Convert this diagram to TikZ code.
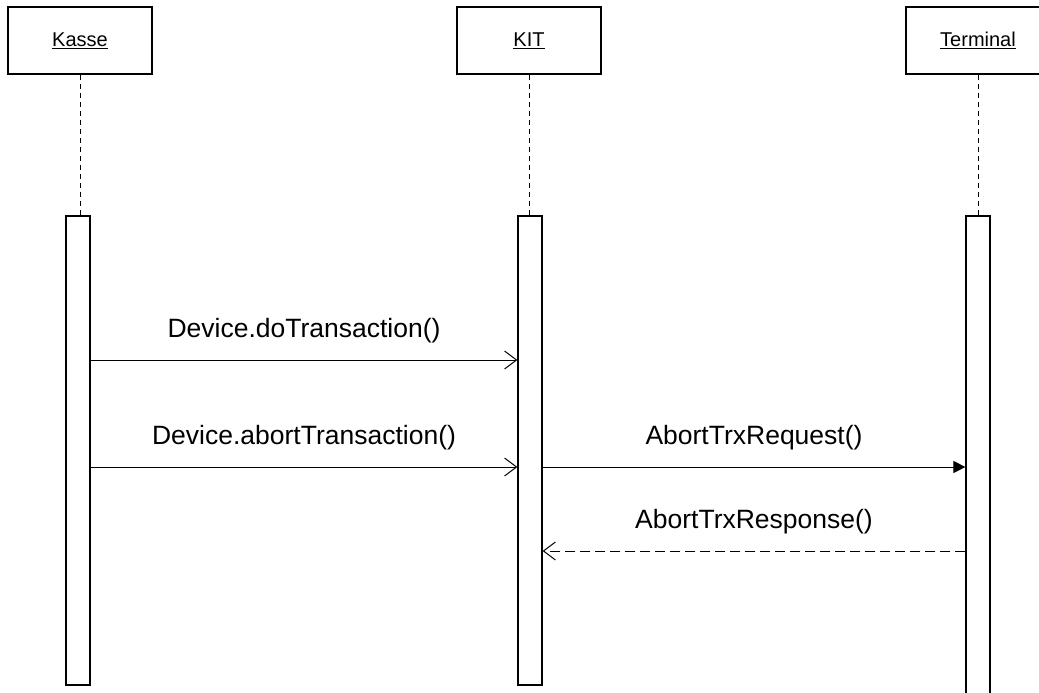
\documentclass[tikz,border=0pt]{standalone}
\usepackage{fontspec}
\setmainfont{Liberation Sans}
\usetikzlibrary{arrows.meta}
\begin{document}
\begin{tikzpicture}[x=1pt,y=-1pt,
  head/.style={draw=black,line width=1.2pt,fill=white,minimum width=144pt,minimum height=67pt,inner sep=0pt,font=\fontsize{20}{24}\selectfont},
  act/.style={draw=black,line width=1.2pt,fill=white,minimum width=24pt,inner sep=0pt},
  life/.style={draw=black,line width=1pt,dash pattern=on 5pt off 4pt},
  msg/.style={draw=black,line width=1pt,-{Straight Barb[length=12pt,width=18pt,line width=1pt]}},
  amsg/.style={draw=black,line width=1pt,-{Triangle[length=12pt,width=12pt]}},
  rmsg/.style={draw=black,line width=1pt,dash pattern=on 10pt off 5pt,-{Straight Barb[length=12pt,width=18pt,line width=1pt]}},
  lbl/.style={font=\fontsize{26.5}{30}\selectfont,inner sep=0pt}
]
\clip (0,0) rectangle (1039,693);
\fill[white] (0,0) rectangle (1039,693);
% heads
\node[head] (kasse) at (80,40.5) {\underline{Kasse}};
\node[head] (kit) at (529,40.5) {\underline{KIT}};
\node[head] (term) at (978,40.5) {\underline{Terminal}};
% activations
\node[act,minimum height=469pt] (kact) at (78,450.5) {};
\node[act,minimum height=469pt] (iact) at (530,450.5) {};
\node[act,minimum height=490pt] (tact) at (978,461) {};
% lifelines
\draw[life] (kasse.south) -- (kasse.south |- kact.north);
\draw[life] (kit.south) -- (kit.south |- iact.north);
\draw[life] (term.south) -- (term.south |- tact.north);
% message rows
\coordinate (m1) at (0,360);
\coordinate (m2) at (0,467);
\coordinate (m3) at (0,551);
\draw[msg] (kact.east |- m1) -- node[lbl,midway,yshift=29pt] (l1) {Device.doTransaction()} (iact.west |- m1);
\draw[msg] (kact.east |- m2) -- node[lbl,midway,yshift=29pt] (l2) {Device.abortTransaction()} (iact.west |- m2);
\draw[amsg] (iact.east |- m2) -- node[lbl,midway,yshift=29pt] (l3) {AbortTrxRequest()} (tact.west |- m2);
\draw[rmsg] (tact.west |- m3) -- node[lbl,midway,yshift=29pt] (l4) {AbortTrxResponse()} (iact.east |- m3);
\end{tikzpicture}
\end{document}
